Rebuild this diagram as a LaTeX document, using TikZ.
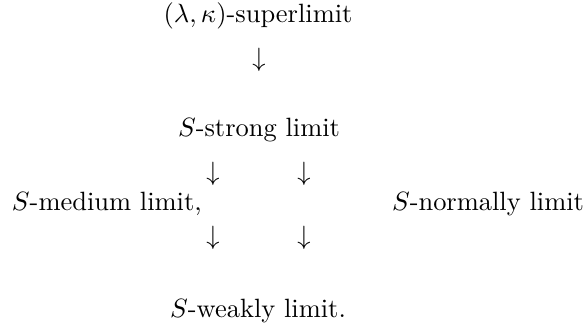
\documentclass[tikz,border=0pt]{standalone}
\begin{document}
\begin{tikzpicture}[x=0.378pt,y=-0.378pt,
  lbl/.style={inner sep=0pt,outer sep=0pt},
  arr/.style={inner sep=0pt,outer sep=0pt}]
\useasboundingbox (0,0) rectangle (586,326);
\node[lbl,anchor=base] (sup) at (258,22) {$(\lambda,\kappa)$-superlimit};
\node[arr] (a1) at (259,60) {$\downarrow$};
\node[lbl,anchor=base] (strong) at (259,136) {$S$-strong limit};
\node[arr] (a2) at (213,174) {$\downarrow$};
\node[arr] (a3) at (304,174) {$\downarrow$};
\node[lbl,anchor=base west] (medium) at (12,210) {$S$-medium limit,};
\node[lbl,anchor=base east] (normally) at (584,210) {$S$-normally limit};
\node[arr] (a4) at (213,238) {$\downarrow$};
\node[arr] (a5) at (304,238) {$\downarrow$};
\node[lbl,anchor=base] (weak) at (258,317) {$S$-weakly limit.};
\end{tikzpicture}
\end{document}
